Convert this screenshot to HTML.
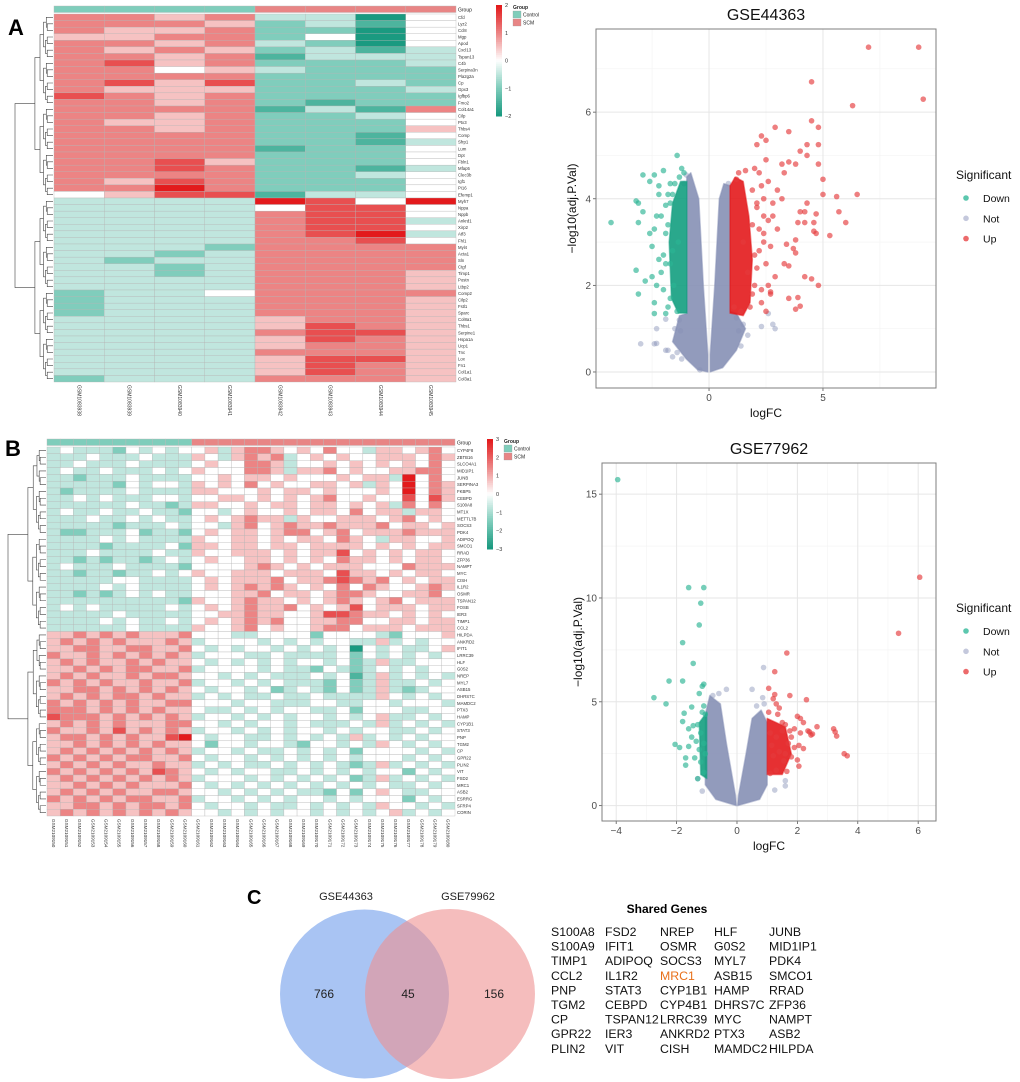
<!DOCTYPE html>
<html><head><meta charset="utf-8">
<style>
body{margin:0;background:#fff;}
svg{display:block;font-family:"Liberation Sans",Arial,sans-serif;}
</style></head>
<body>
<svg id="fig" width="1020" height="1082" viewBox="0 0 1020 1082" xmlns="http://www.w3.org/2000/svg">
<rect width="1020" height="1082" fill="#fff"/>
<text x="8" y="35" font-size="22" font-weight="bold">A</text>
<text x="5" y="456" font-size="22" font-weight="bold">B</text>
<text x="247" y="904" font-size="20" font-weight="bold">C</text>
<g id="hmA"></g>
<g id="hmB"></g>
<g id="vA"></g>
<g id="vB"></g>
<g id="venn">
  <circle cx="364.5" cy="994" r="84.5" fill="#a9c4f3"/>
  <circle cx="450" cy="994" r="85" fill="rgba(238,145,145,0.6)"/>
  <text x="346" y="900" font-size="11" text-anchor="middle" fill="#222">GSE44363</text>
  <text x="468" y="900" font-size="11" text-anchor="middle" fill="#222">GSE79962</text>
  <text x="324" y="998" font-size="12" text-anchor="middle" fill="#222">766</text>
  <text x="408" y="998" font-size="12" text-anchor="middle" fill="#222">45</text>
  <text x="494" y="998" font-size="12" text-anchor="middle" fill="#222">156</text>
</g>
<g id="genes">
  <text x="667" y="913" font-size="12" font-weight="bold" text-anchor="middle">Shared Genes</text>
</g>
</svg>
<script>
const NS='http://www.w3.org/2000/svg';
function mk(tag,attrs,parent){const e=document.createElementNS(NS,tag);for(const k in attrs)e.setAttribute(k,attrs[k]);if(parent)parent.appendChild(e);return e;}

/* ---------- Heatmap data (digit 0..8 -> z = (d-4)/2) ---------- */
const hmASamples=['GSM1083938','GSM1083939','GSM1083940','GSM1083941','GSM1083942','GSM1083943','GSM1083944','GSM1083945'];
const hmAGroups=['C','C','C','C','S','S','S','S'];
const hmARows=['66563304','66652314','65562204','55662404','66563204','65652313','66561333','67562223','66453222','66662222','67572232','65552223','76562222','66562122','66661316','66562234','65562224','66562225','66662214','66662213','66661224','66662224','66752224','66762213','66662234','65762224','66862224','45771334',
'33338748','33334774','33336774','33336773','33336774','33336783','33336674','33326666','33236666','32336666','33236666','33236665','33336665','33336665','23346666','23336665','23336665','23336665','33335665','33335765','33336775','33335765','33335665','33336665','33335775','33335765','33335765','23336665'];
const hmALabels=['Cfd','Lyz2','Ccl8','Mgp','Apod','Cxcl13','Tspan13','C4b','Serpina3n','Pla2g2a','Cp','Gpx3','Igfbp6','Fmo2','Col14a1','Cilp','Ptx3','Thbs4','Comp','Sfrp1','Lum','Dpt','Fbln1','Mfap5','Clec3b','Igf1','Pi16','Efemp1',
'Myh7','Nppa','Nppb','Ankrd1','Xirp2','Atf3','Fhl1','Myl4','Acta1','Sln','Ctgf','Timp1','Postn','Ltbp2','Comp2','Cilp2','Fstl1','Sparc','Col8a1','Thbs1','Serpine1','Hspa1a','Ucp1','Tnc','Lox','Fn1','Col1a1','Col3a1'];

const hmBSamples=[];for(let i=150;i<=180;i++)hmBSamples.push('GSM2109'+i);
const hmBGroups=hmBSamples.map((s,i)=>i<11?'C':'S');
const hmBRows=[
'3433324343445356654546443554564','3334333433354356563454544555465','3343334333345446653445454545464','3433433343454446653556454455664','3323334333344545545444545538464','3333324344354546454455453548465','3233334333355444545545444548465','3343433344344554545456445447475','3333334332355445455455454536464','3433433433244345445455464553554','3334334343345456553544555456454','3333323334344356456556555645545','3223334233245455456645645556555','3333434333354455454554654355445','3333233334255455455455554545455','3334333343354455545455745454554','3323233234345445545454655454554','3433343333244445654545554446555','3323323343454455545554755454554','3333344333345455564556765645455','3333434333345456565454646544565','3323234343344455645545665445564','3333333333254456554545654564555','3434333334345456556454574555455','3333343333344556554457765545454','3333434334345456564455664455455','3333334333354456454456645554555',
'5565656555644433444424444324445','5656565556534444343434433534344','5566556655643434434343404343345','6556565656534443343333424343434','5656556565543434343443423533444','5565656655634444343324323434344','5656556566544343433343413534343','6565655655634434343332423533434','5566565656543443423432423532344','5656566565534343343343333543434','6565656556644434433344334434443','6665656565543343434433424443344','7666565656534434343443434533434','5656565556644343443433343534343','6556575656534434343443434433434','5665656557843443343434353434344','5565656565542443443244343543434','5656565656534434334343424444343','6565656655643443434343434443434','5656565565534343343434323534343','6565656576543434433434343442434','5656565656534443434343423534343','5565656555643434343434343433434','5656565566544343434332424543344','6565656655634434343443434442434','5566565665643443433434343544343','5656565656544343434434343453434'];
const hmBLabels=['CYP4F8','ZBTB16','SLCO4A1','MID1IP1','JUNB','SERPINA3','FKBP5','CEBPD','S100A8','MT1X','METTL7B','SOCS3','PDK4','ADIPOQ','SMCO1','RRAD','ZFP36','NAMPT','MYC','CISH','IL1R2','OSMR','TSPAN12','FOSB','IER3','TIMP1','CCL2',
'HILPDA','ANKRD2','IFIT1','LRRC39','HLF','G0S2','NREP','MYL7','ASB15','DHRS7C','MAMDC2','PTX3','HAMP','CYP1B1','STAT3','PNP','TGM2','CP','GPR22','PLIN2','VIT','FSD2','MRC1','ASB2','ESRRG','SFRP4','CORIN','COMP'];

function zcol(z){
  const st=[[-2,[26,154,128]],[-1,[128,205,188]],[0,[255,255,255]],[1,[236,132,132]],[2,[227,26,28]]];
  z=Math.max(-2,Math.min(2,z));
  for(let i=0;i<st.length-1;i++){const a=st[i],b=st[i+1];if(z<=b[0]){const t=(z-a[0])/(b[0]-a[0]);return 'rgb('+a[1].map((v,j)=>Math.round(v+(b[1][j]-v)*t)).join(',')+')';}}
  return 'rgb(227,26,28)';
}
function heatmap(g,rows,samples,groups,labels,f){
  const nC=samples.length,nR=rows.length;
  const cw=(f.x1-f.x0)/nC,rh=(f.y1-f.y0)/nR;
  groups.forEach((gr,i)=>{
    const r=mk('rect',{x:f.x0+i*cw,y:f.gy0,width:cw,height:f.gy1-f.gy0,fill:gr==='C'?'#7fcdbb':'#e88585',stroke:'#b9b9b9','stroke-width':0.4},g);
    
    
  });
  const gl=mk('text',{x:f.x1+2,y:(f.gy0+f.gy1)/2+2,'font-size':5,fill:'#222'},g);gl.textContent='Group';
  
  
  rows.forEach((row,r)=>{
    for(let c=0;c<nC;c++){
      const ch=row[c];const d=ch===undefined?4:parseInt(ch,10);
      const rc=mk('rect',{x:f.x0+c*cw,y:f.y0+r*rh,width:cw,height:rh,fill:zcol((d-4)/2),stroke:'#b4b4b4','stroke-width':0.35},g);
      
      
    }
    const t=mk('text',{x:f.x1+2,y:f.y0+r*rh+rh/2+1.6,'font-size':4.3,fill:'#333'},g);
    t.textContent=labels[r]||'';
    
    
  });
  samples.forEach((s,i)=>{
    const cx=f.x0+i*cw+cw/2;
    const t=mk('text',{x:0,y:0,'font-size':f.cfs,fill:'#333',transform:'translate('+(cx-1.7)+','+(f.y1+3)+') rotate(90)'},g);
    t.textContent=s;
    
    
  });
  const dg=mk('g',{stroke:'#444','stroke-width':0.6,fill:'none'},g);
  
  
  const W=f.x0-f.dx0-1;
  function build(lo,hi,depth){
    if(hi-lo===1)return {y:f.y0+lo*rh+rh/2,x:f.x0-1};
    const mid=Math.floor((lo+hi)/2);
    const a=build(lo,mid,depth+1),b=build(mid,hi,depth+1);
    const n=hi-lo;
    const x=depth===0?f.dx0:f.x0-1-W*0.62*Math.pow(n/nR,0.55)-2;
    mk('path',{d:'M'+a.x+','+a.y+'H'+x+'V'+b.y+'H'+b.x},dg);
    return {y:(a.y+b.y)/2,x:x};
  }
  build(0,nR,0);
  for(let i=0;i<60;i++){
    const z=f.cbMax-(f.cbMax-f.cbMin)*i/59;
    mk('rect',{x:f.cbx,y:f.cby0+(f.cby1-f.cby0)*i/60,width:6,height:(f.cby1-f.cby0)/60+0.5,fill:zcol(z*2/f.cbMax)},g);
  }
  for(let v=f.cbMin;v<=f.cbMax;v++){
    const y=f.cby0+(f.cbMax-v)/(f.cbMax-f.cbMin)*(f.cby1-f.cby0);
    const t=mk('text',{x:f.cbx+9,y:y+2,'font-size':5.5,fill:'#333'},g);t.textContent=v<0?'\u2212'+(-v):String(v);
    
    
  }
  const lx=f.cbx+17;
  const gt=mk('text',{x:lx,y:f.cby0+4,'font-size':5,'font-weight':'bold',fill:'#222'},g);gt.textContent='Group';
  
  
  [['Control','#7fcdbb'],['SCM','#e88585']].forEach((e,i)=>{
    const r=mk('rect',{x:lx,y:f.cby0+6+i*8,width:8,height:7,fill:e[1],stroke:'#999','stroke-width':0.3},g);
    
    
    const t=mk('text',{x:lx+10,y:f.cby0+11.5+i*8,'font-size':5,fill:'#222'},g);t.textContent=e[0];
    
    
  });
}
heatmap(document.getElementById('hmA'),hmARows,hmASamples,hmAGroups,hmALabels,
 {x0:54,x1:456,y0:14,y1:382,gy0:6,gy1:12.5,dx0:15,cfs:5,cbx:496,cby0:5,cby1:116,cbMin:-2,cbMax:2});
heatmap(document.getElementById('hmB'),hmBRows,hmBSamples,hmBGroups,hmBLabels,
 {x0:47,x1:455,y0:447,y1:816,gy0:439,gy1:445.5,dx0:8,cfs:4.6,cbx:487,cby0:439,cby1:549,cbMin:-3,cbMax:3});

/* ---------- Volcano data ---------- */
const vaUpX=[7,9.2,4.5,9.4,6.3,4.5,4.8,2.9,3.5,2.3,2.5,2.1,4.3,4.8,4.0,4.3,2.5,4.8,3.2,3.5,3.8,5.0,5.0,5.6,6.5,4.3,5.7,6.0,4.0,4.2,4.7,4.2,4.6,3.9,4.6,4.7,5.3,3.8,3.7,3.8,3.4,4.2,4.5,4.8,3.5,3.3,3.5,3.9,3.8,4.0,2.7,3.3,3.0,2.8,3.2,2.6,3.0,2.4,2.9,2.5,2.2,2.0,2.3,2.6,2.1,1.9,2.4,2.2,2.7,2.0,2.3,1.9,2.5,2.1,2.8,2.4,1.3,1.6,1.9,2.1,1.4,1.8,2.2,1.7,2.6,1.2,1.5,2.0,2.3,1.1,2.7,2.4];
const vaUpY=[7.5,7.5,6.7,6.3,6.15,5.8,5.65,5.65,5.55,5.45,5.35,5.25,5.25,5.25,5.1,5.0,4.9,4.8,4.8,4.85,4.8,4.45,4.1,4.05,4.1,3.9,3.7,3.45,3.7,3.7,3.65,3.45,3.45,3.45,3.25,3.2,3.15,3.05,2.85,2.75,2.95,2.2,2.15,2.0,2.45,2.5,1.7,1.72,1.45,1.52,1.85,4.6,4.2,3.9,4.0,3.5,3.3,3.0,2.2,2.5,4.6,4.7,4.3,4.4,3.8,3.4,3.6,2.8,2.9,2.0,1.6,1.8,1.4,2.4,3.6,4.0,4.6,4.65,4.2,3.9,1.4,1.5,3.3,2.3,2.0,4.45,3.0,2.7,1.9,1.5,1.8,3.2];
const vaDownX=[-4.3,-3.2,-3.1,-3.1,-2.9,-2.9,-2.6,-2.4,-2.0,-2.2,-1.7,-1.4,-1.2,-1.1,-2.6,-2.4,-2.5,-3.2,-2.8,-3.1,-2.5,-2.4,-2.4,-2.2,-2.0,-2.1,-1.9,-2.3,-1.8,-1.8,-2.2,-1.6,-1.9,-2.1,-1.7,-1.9,-2.0,-1.8,-2.3,-1.7,-1.5,-1.3,-1.6,-1.4,-1.9,-1.55,-1.35,-1.7];
const vaDownY=[3.45,3.95,3.9,3.45,3.7,4.55,4.4,4.55,4.65,4.3,4.35,5.0,4.7,4.6,3.2,3.3,2.9,2.35,2.1,1.8,2.2,1.6,1.35,2.6,1.9,3.6,3.85,3.6,1.5,4.1,4.1,2.8,2.5,2.3,1.7,3.2,2.7,3.4,2.0,3.9,4.35,4.5,4.1,1.4,1.35,2.0,3.0,2.5];
const vaNotX=[-3.0,-2.4,-2.3,-2.3,-1.9,-1.9,-1.8,-1.6,-1.5,-1.4,-1.25,1.3,1.5,1.7,2.3,2.6,2.8,2.9,-1.3,1.2,-1.2,1.4,-0.4,-1.1,0.85,-1.0];
const vaNotY=[0.65,0.65,0.66,1.0,1.22,0.5,0.5,0.35,1.0,0.45,0.95,0.95,1.1,0.85,1.05,1.35,1.1,1.0,1.2,1.25,0.3,0.6,0.05,4.35,4.35,4.55];
const vaNotArmL=[[-0.05,0],[-0.5,0.05],[-1.0,0.3],[-1.6,0.7],[-1.3,1.3],[-0.98,1.35],[-0.98,4.5],[-0.8,4.6],[-0.45,4.0],[-0.25,2.0],[-0.05,0.4]];
const vaNotArmR=[[0.05,0],[0.6,0.1],[1.2,0.5],[1.6,1.0],[1.2,1.35],[0.92,1.4],[0.92,4.3],[0.65,4.35],[0.45,4.0],[0.25,2.0],[0.05,0.4]];
const vaUpCore=[[0.92,1.36],[1.5,1.3],[1.8,1.6],[1.9,2.6],[1.75,3.6],[1.5,4.4],[1.15,4.5],[0.92,4.3]];
const vaDownCore=[[-0.97,1.36],[-1.35,1.36],[-1.65,1.7],[-1.75,3.0],[-1.6,3.9],[-1.25,4.4],[-0.97,4.4]];

const vbUpX=[6.05,5.35,1.65,1.25,1.05,1.25,1.75,2.3,1.2,1.3,1.4,1.05,1.35,2.0,2.2,2.1,2.65,3.2,3.25,3.3,2.4,2.5,1.6,1.5,1.8,2.1,3.55,3.65,1.7,1.9,2.05,2.2,1.8,1.55,2.0,2.05,1.65,1.3,1.1,1.2,1.4,1.6,1.3,1.1,1.5,1.15,1.75,1.9,2.45,2.35];
const vbUpY=[11.0,8.3,7.35,6.45,5.65,5.35,5.3,5.1,5.15,4.9,4.7,4.5,4.4,4.3,4.0,4.2,3.8,3.7,3.55,3.35,3.55,3.45,3.9,3.6,3.3,3.5,2.5,2.4,3.0,2.8,2.9,2.75,2.35,2.15,2.2,1.9,1.65,1.7,1.55,2.4,2.6,2.5,3.3,3.5,4.0,2.9,3.6,3.7,3.4,3.6];
const vbDownX=[-3.95,-1.6,-1.1,-1.2,-1.25,-1.8,-1.45,-2.25,-1.8,-1.1,-1.15,-2.75,-2.35,-1.25,-1.5,-1.1,-1.75,-1.8,-1.45,-1.6,-1.3,-2.05,-1.9,-1.6,-1.7,-1.4,-1.7,-1.3,-1.1,-1.2,-1.35,-1.2,-1.05,-1.15,-1.5,-1.05,-1.1,-1.25];
const vbDownY=[15.7,10.5,10.5,9.75,8.7,7.85,6.85,6.0,6.0,5.85,5.75,5.2,4.9,5.4,4.75,4.8,4.45,4.05,3.85,3.7,3.9,2.95,2.8,2.85,2.3,2.3,1.95,1.3,1.6,2.1,3.1,3.5,4.4,4.5,3.3,2.5,3.0,2.7];
const vbNotX=[0.88,-0.35,-0.6,0.5,0.85,0.65,-1.15,1.25,1.6,1.6,-1.3,-0.8,0.9];
const vbNotY=[6.65,5.6,5.4,5.6,5.2,4.8,0.7,0.75,0.95,1.2,1.3,5.3,4.9];
const vbNotArmL=[[-0.02,0],[-0.7,0.3],[-1.05,1.0],[-1.05,4.4],[-0.9,5.3],[-0.55,4.9],[-0.35,3.0],[-0.05,0.5]];
const vbNotArmR=[[0.02,0],[0.75,0.3],[1.0,1.0],[1.0,4.0],[0.8,4.6],[0.5,4.2],[0.3,2.5],[0.05,0.5]];
const vbUpCore=[[1.0,1.5],[1.5,1.5],[1.8,2.5],[1.6,3.8],[1.0,4.2]];
const vbDownCore=[[-1.0,1.3],[-1.2,1.5],[-1.25,4.0],[-1.0,4.5]];

const vaXTicks=[0,5],vaXMinor=[-2.5,2.5,7.5],vaYTicks=[0,2,4,6],vaYMinor=[1,3,5,7];
const vbXTicks=[-4,-2,0,2,4,6],vbXMinor=[-3,-1,1,3,5],vbYTicks=[0,5,10,15],vbYMinor=[2.5,7.5,12.5];

const COL={down:'#139e80',not:'#8690b5',up:'#e31a1c'};
function volcano(g,c){
  const sx=v=>c.px0+(v-c.xmin)/(c.xmax-c.xmin)*(c.px1-c.px0);
  const sy=v=>c.py1-(v-c.ymin)/(c.ymax-c.ymin)*(c.py1-c.py0);
  mk('rect',{x:c.px0,y:c.py0,width:c.px1-c.px0,height:c.py1-c.py0,fill:'#fff'},g);
  const id='clip'+c.id;const cp=mk('clipPath',{id:id},g);mk('rect',{x:c.px0,y:c.py0,width:c.px1-c.px0,height:c.py1-c.py0},cp);
  c.xMinor.forEach(v=>mk('line',{x1:sx(v),x2:sx(v),y1:c.py0,y2:c.py1,stroke:'#f3f3f3','stroke-width':0.6},g));
  c.yMinor.forEach(v=>mk('line',{y1:sy(v),y2:sy(v),x1:c.px0,x2:c.px1,stroke:'#f3f3f3','stroke-width':0.6},g));
  c.xTicks.forEach(v=>{
    mk('line',{x1:sx(v),x2:sx(v),y1:c.py0,y2:c.py1,stroke:'#e6e6e6','stroke-width':1},g);
    mk('line',{x1:sx(v),x2:sx(v),y1:c.py1,y2:c.py1+3,stroke:'#555','stroke-width':0.8},g);
    const t=mk('text',{x:sx(v),y:c.py1+13,'font-size':10,'text-anchor':'middle',fill:'#4d4d4d'},g);
    t.textContent=v<0?'\u2212'+(-v):String(v);
    
    
  });
  c.yTicks.forEach(v=>{
    mk('line',{y1:sy(v),y2:sy(v),x1:c.px0,x2:c.px1,stroke:'#e6e6e6','stroke-width':1},g);
    mk('line',{y1:sy(v),y2:sy(v),x1:c.px0-3,x2:c.px0,stroke:'#555','stroke-width':0.8},g);
    const t=mk('text',{x:c.px0-5,y:sy(v)+3.5,'font-size':10,'text-anchor':'end',fill:'#4d4d4d'},g);
    t.textContent=String(v);
    
    
  });
  const pg=mk('g',{'clip-path':'url(#'+id+')'},g);
  const poly=(pts,col,name)=>{const p=mk('polygon',{points:pts.map(q=>sx(q[0])+','+sy(q[1])).join(' '),fill:col,'fill-opacity':0.9,stroke:col,'stroke-width':1.5,'stroke-opacity':0.5,'stroke-linejoin':'round'},pg);
    
    };
  const pts=(xs,ys,col,op,name)=>xs.forEach((x,i)=>{const e=mk('circle',{cx:sx(x),cy:sy(ys[i]),r:2.8,fill:col,'fill-opacity':op},pg);
    
    });
  pts(c.notX,c.notY,COL.not,0.45,'point-not');
  poly(c.armL,COL.not,'not-cloud-left');
  poly(c.armR,COL.not,'not-cloud-right');
  poly(c.upCore,COL.up,'up-dense-core');
  poly(c.downCore,COL.down,'down-dense-core');
  pts(c.downX,c.downY,'#2bb394',0.65,'point-down');
  pts(c.upX,c.upY,'#e53a3c',0.65,'point-up');
  mk('rect',{x:c.px0,y:c.py0,width:c.px1-c.px0,height:c.py1-c.py0,fill:'none',stroke:'#7f7f7f','stroke-width':1},g);
  const tt=mk('text',{x:(c.px0+c.px1)/2,y:c.titleY,'font-size':16,'text-anchor':'middle',fill:'#111'},g);tt.textContent=c.title;
  
  
  const xl=mk('text',{x:(c.px0+c.px1)/2,y:c.py1+29,'font-size':12,'text-anchor':'middle',fill:'#111'},g);xl.textContent='logFC';
  
  
  const yl=mk('text',{x:0,y:0,'font-size':12,'text-anchor':'middle',fill:'#111',transform:'translate('+(c.px0-20)+','+((c.py0+c.py1)/2)+') rotate(-90)'},g);
  yl.textContent='\u2212log10(adj.P.Val)';
  
  
  const lt=mk('text',{x:956,y:c.legY,'font-size':12,fill:'#111'},g);lt.textContent='Significant';
  
  
  [['Down','#5cc7ae'],['Not','#c4c8dc'],['Up','#ec6a6b']].forEach((e,i)=>{
    const y=c.legY+23+i*20.3;
    const d=mk('circle',{cx:966,cy:y-4,r:2.8,fill:e[1]},g);
    
    
    const t=mk('text',{x:983,y:y,'font-size':10.5,fill:'#111'},g);t.textContent=e[0];
    
    
  });
}
volcano(document.getElementById('vA'),{id:'A',px0:596,px1:936,py0:29,py1:388,xmin:-4.96,xmax:9.96,ymin:-0.37,ymax:7.92,
  xTicks:vaXTicks,xMinor:vaXMinor,yTicks:vaYTicks,yMinor:vaYMinor,upX:vaUpX,upY:vaUpY,downX:vaDownX,downY:vaDownY,notX:vaNotX,notY:vaNotY,
  armL:vaNotArmL,armR:vaNotArmR,upCore:vaUpCore,downCore:vaDownCore,title:'GSE44363',titleY:20,legY:179});
volcano(document.getElementById('vB'),{id:'B',px0:602,px1:936,py0:463,py1:821,xmin:-4.47,xmax:6.59,ymin:-0.74,ymax:16.5,
  xTicks:vbXTicks,xMinor:vbXMinor,yTicks:vbYTicks,yMinor:vbYMinor,upX:vbUpX,upY:vbUpY,downX:vbDownX,downY:vbDownY,notX:vbNotX,notY:vbNotY,
  armL:vbNotArmL,armR:vbNotArmR,upCore:vbUpCore,downCore:vbDownCore,title:'GSE77962',titleY:454,legY:612});

/* ---------- Shared genes ---------- */
const geneCols=[
 ['S100A8','S100A9','TIMP1','CCL2','PNP','TGM2','CP','GPR22','PLIN2'],
 ['FSD2','IFIT1','ADIPOQ','IL1R2','STAT3','CEBPD','TSPAN12','IER3','VIT'],
 ['NREP','OSMR','SOCS3','MRC1','CYP1B1','CYP4B1','LRRC39','ANKRD2','CISH'],
 ['HLF','G0S2','MYL7','ASB15','HAMP','DHRS7C','MYC','PTX3','MAMDC2'],
 ['JUNB','MID1IP1','PDK4','SMCO1','RRAD','ZFP36','NAMPT','ASB2','HILPDA']];
const gx=[551,605,660,714,769];
const gg=document.getElementById('genes');
geneCols.forEach((col,ci)=>col.forEach((name,ri)=>{
  const t=mk('text',{x:gx[ci],y:936+ri*14.6,'font-size':12.3,fill:name==='MRC1'?'#e8701a':'#111'},gg);
  t.textContent=name;
  
  
}));
</script>
</body></html>
